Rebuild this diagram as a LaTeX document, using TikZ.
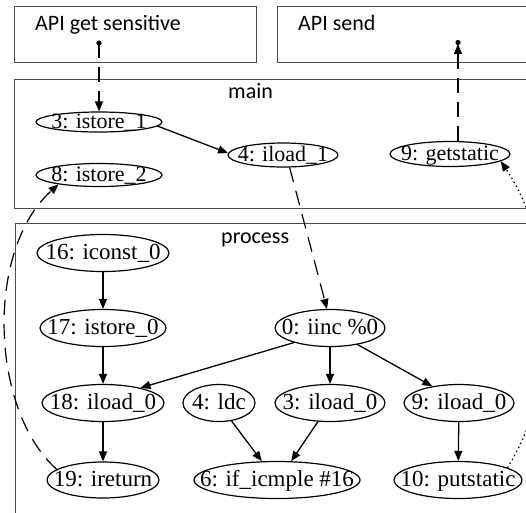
\documentclass[tikz,border=0pt]{standalone}
\usepackage{fontspec}
\setmainfont{Liberation Serif}
\newfontfamily\boxfont{Carlito}
\usetikzlibrary{shapes.geometric,arrows.meta}
% centred label of zero size, so the ellipse takes its size from the style
\newcommand\oplabel[1]{\smash{\makebox[0pt]{\raisebox{-0.3em}{#1}}}}
\newcommand\mainsz{\fontsize{22}{24}\selectfont}
\newcommand\procsz{\fontsize{23}{25}\selectfont}
\newcommand\capsz{\boxfont\fontsize{22}{24}\selectfont}
\begin{document}
\begin{tikzpicture}[x=1pt,y=-1pt,
  >={Triangle[length=10pt,width=8pt]},
  op/.style={ellipse, draw, inner sep=0pt, line width=1.2pt},
  mop/.style={op, font=\mainsz},
  pop/.style={op, font=\procsz},
  frame/.style={draw=black!70, line width=1pt},
  framelabel/.style={anchor=base west, inner sep=0pt, font=\capsz},
  flow/.style={->, line width=1.3pt},
  dep/.style={->, dash pattern=on 15pt off 9pt, line width=1.2pt},
  ref/.style={->, dash pattern=on 1.5pt off 3pt, line width=1.2pt}]
\useasboundingbox (0,0) rectangle (526,512);
\clip (0,0) rectangle (526,512);

% method frames
\draw[frame] (14,6) rectangle (256,62);
\draw[frame] (277,6) rectangle (540,62);
\draw[frame] (14,79) rectangle (540,208);
\draw[frame] (15,223) rectangle (540,530);
\node[framelabel] (tget) at (35,30) {API get sensitive};
\node[framelabel] (tsend) at (298,30) {API send};
\node[framelabel] (tmain) at (228,98) {main};
\node[framelabel] (tproc) at (221,243) {process};

% main
\node[mop, minimum width=126pt, minimum height=20pt] (m3) at (99,122) {\oplabel{3: istore\_1}};
\node[mop, minimum width=110pt, minimum height=24pt] (m4) at (283,155) {\oplabel{4: iload\_1}};
\node[mop, minimum width=120pt, minimum height=25pt] (m9) at (450,154) {\oplabel{9: getstatic}};
\node[mop, minimum width=126pt, minimum height=23pt] (m8) at (99,175) {\oplabel{8: istore\_2}};

% process
\node[pop, minimum width=132pt, minimum height=37pt] (p16) at (103,253) {\oplabel{16: iconst\_0}};
\node[pop, minimum width=126pt, minimum height=37pt] (p17) at (103,328) {\oplabel{17: istore\_0}};
\node[pop, minimum width=110pt, minimum height=37pt] (p0) at (330,328) {\oplabel{0: iinc \%0}};
\node[pop, minimum width=122pt, minimum height=37pt] (p18) at (103,403) {\oplabel{18: iload\_0}};
\node[pop, minimum width=72pt, minimum height=37pt] (p4) at (219,403) {\oplabel{4: ldc}};
\node[pop, minimum width=110pt, minimum height=37pt] (p3) at (330,403) {\oplabel{3: iload\_0}};
\node[pop, minimum width=110pt, minimum height=37pt] (p9) at (459,403) {\oplabel{9: iload\_0}};
\node[pop, minimum width=112pt, minimum height=36pt] (p19) at (103,480) {\oplabel{19: ireturn}};
\node[pop, minimum width=166pt, minimum height=37pt] (p6) at (277,480) {\oplabel{6: if\_icmple \#16}};
\node[pop, minimum width=128pt, minimum height=37pt] (p10) at (458,480) {\oplabel{10: putstatic}};

% API endpoints
\coordinate (src) at (99,43);
\coordinate (snk) at (458,44);

% data flow
\draw[dep] (src) -- (m3.north);
\fill (src) circle (2.6pt);
\draw[dep] (snk |- m9.north) -- (snk);
\fill (458,42.5) circle (2.6pt);

\draw[flow] (m3.-4) -- (m4.178);
\draw[dep] (m4.-62) -- (p0.99);
\draw[flow] (p16) -- (p17);
\draw[flow] (p17) -- (p18);
\draw[flow] (p18) -- (p19);
\draw[flow] (p0.-158) -- (p18.22);
\draw[flow] (p0) -- (p3);
\draw[flow] (p0.-31) -- (p9.148);
\draw[flow] (p4.-55) -- (p6.129);
\draw[flow] (p3.-123) -- (p6.53);
\draw[flow] (p9) -- (p10);
\draw[dep] (p19.167) .. controls (-10,410) and (-15,250) .. (m8.-167);
\draw[ref] (p10.14) .. controls (560,385) and (560,250) .. (m9.-8);
\end{tikzpicture}
\end{document}
